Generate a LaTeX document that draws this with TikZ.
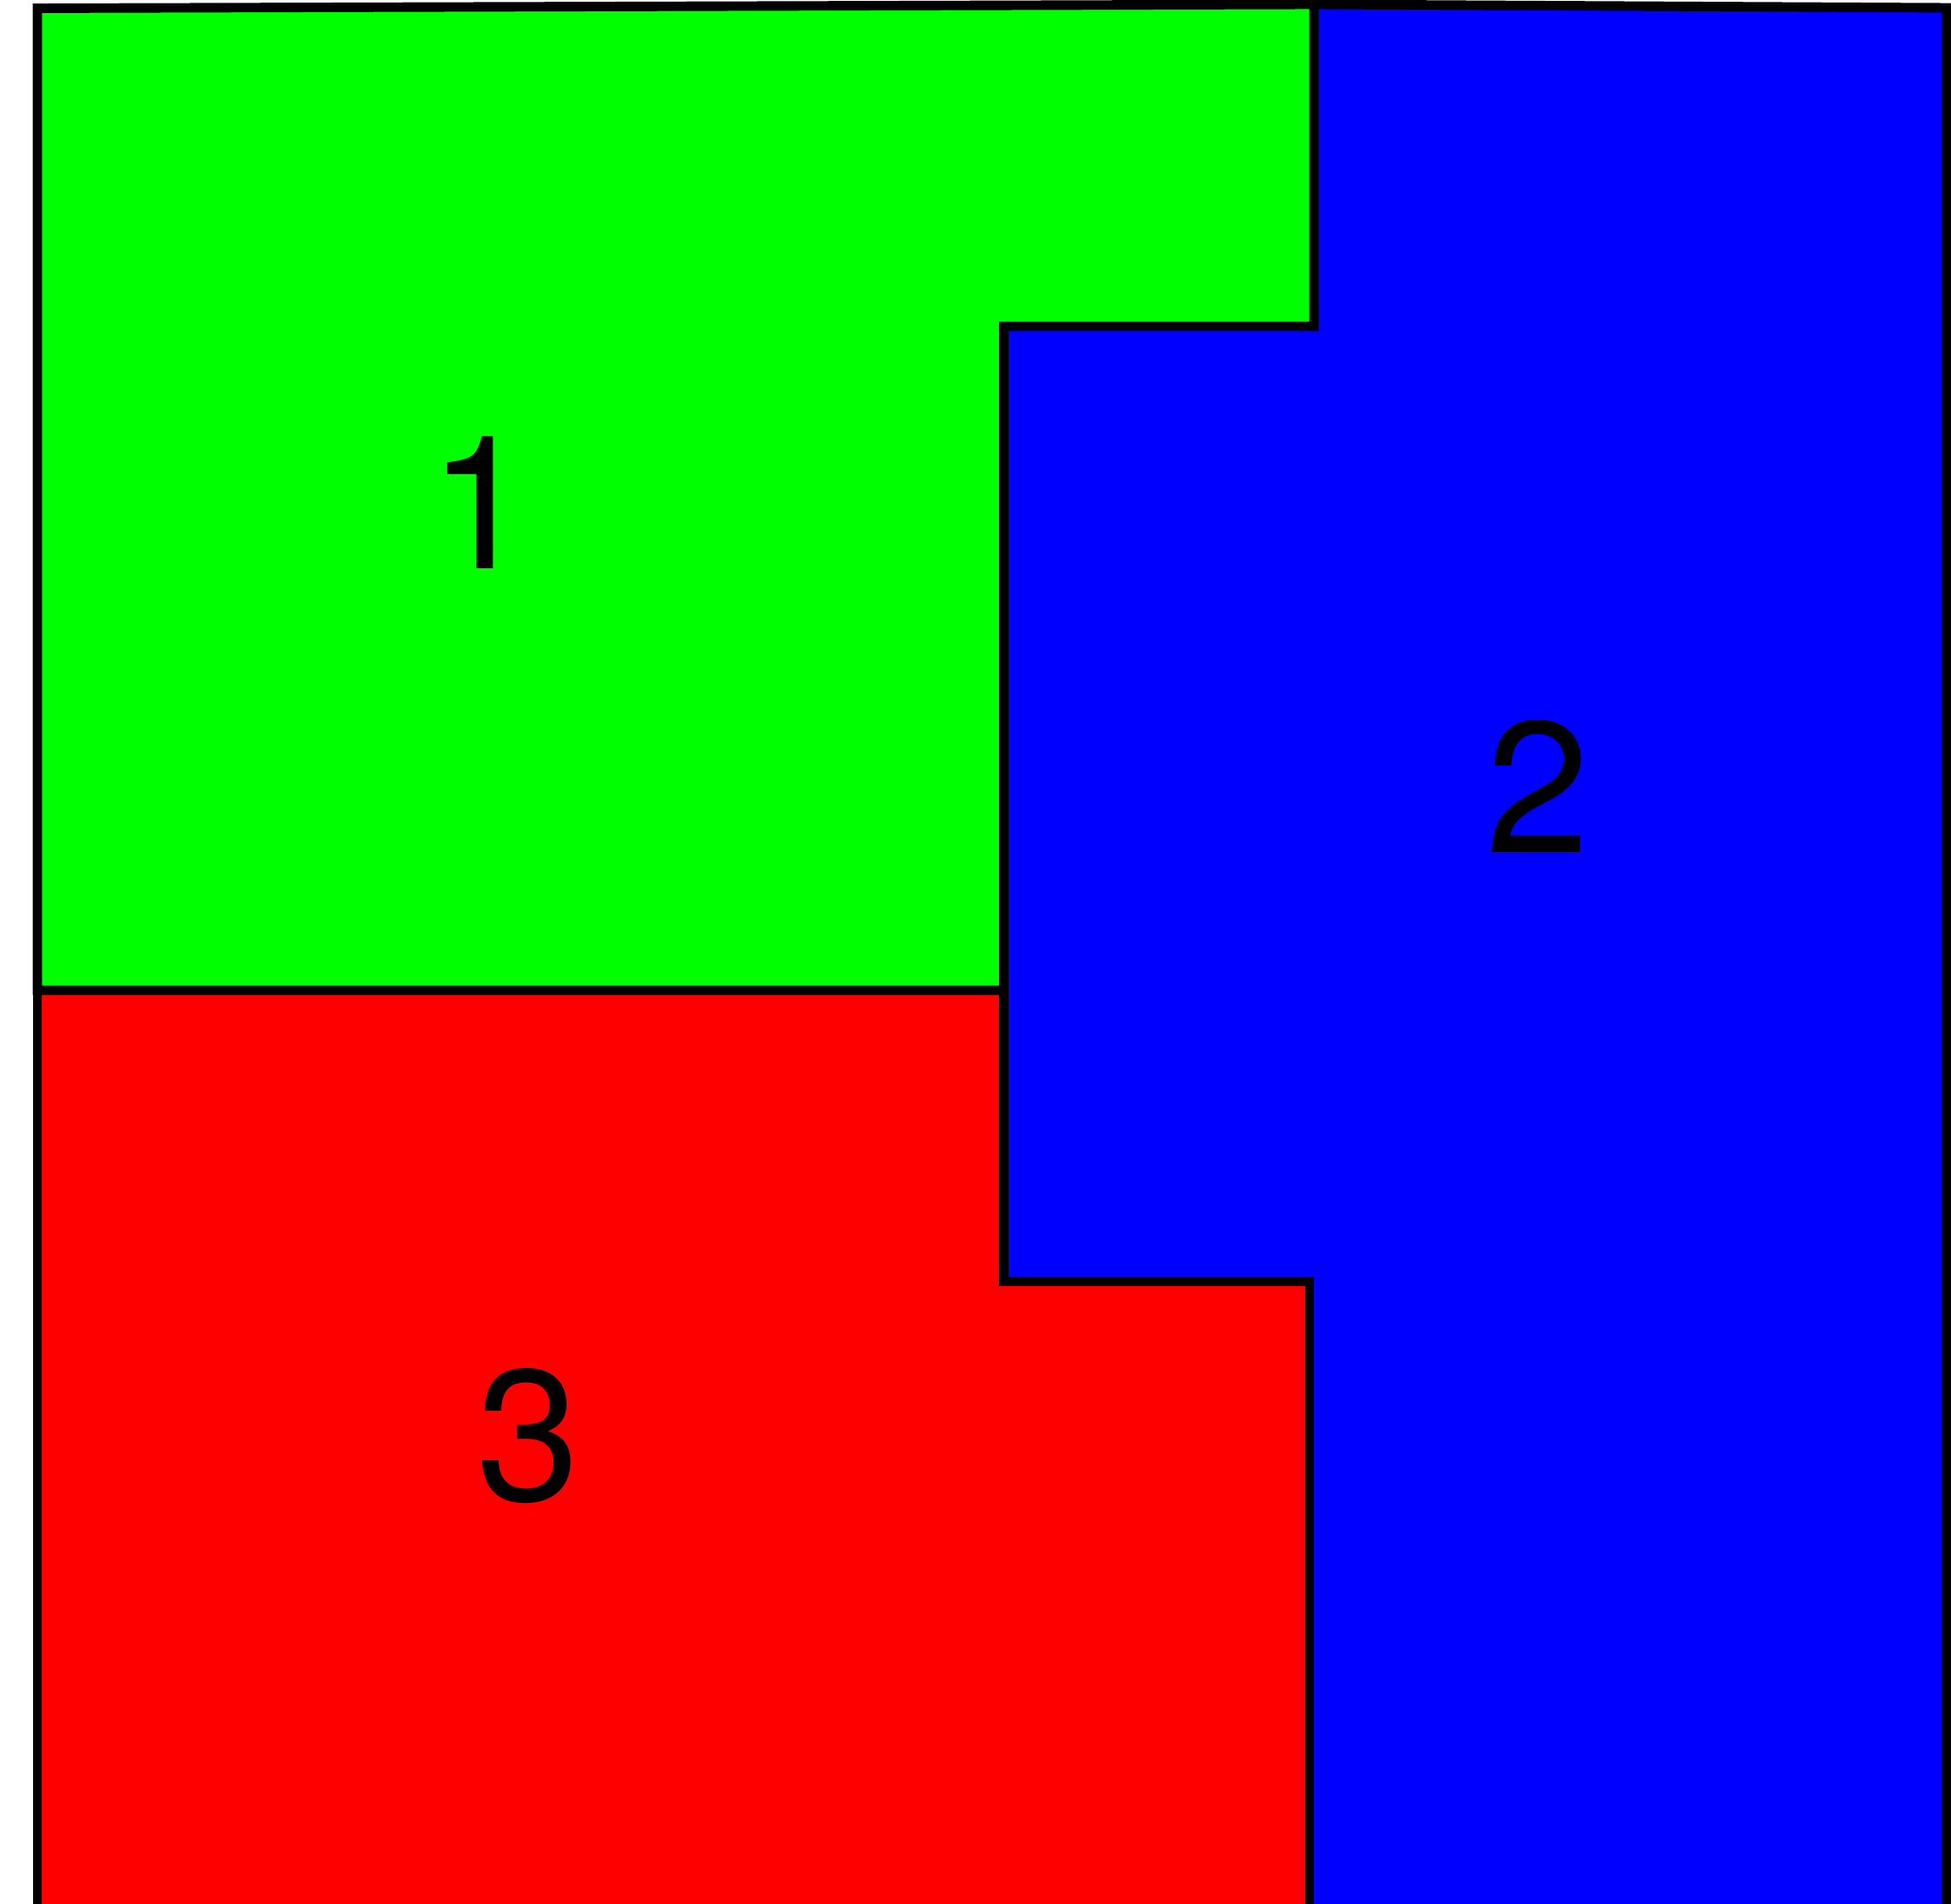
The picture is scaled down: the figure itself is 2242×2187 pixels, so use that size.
\documentclass[tikz,border=0pt]{standalone}
\usepackage{fontspec}
\setmainfont{TeX Gyre Heros}
\begin{document}
\begin{tikzpicture}[x=0.1mm,y=-0.1mm,
    region/.style={draw=black, line width=3.1pt, line join=miter},
    numlabel/.style={inner sep=0pt, font=\fontsize{61}{61}\selectfont}]
        \useasboundingbox (0,0) rectangle (2242,2187);
        \clip (0,0) rectangle (2242,2187);

        % corners shared by the regions
        \coordinate (tl) at (43,9.5);
        \coordinate (tm) at (1510,5);
        \coordinate (tr) at (2236.5,9);
        \coordinate (stepa) at (1510,375);
        \coordinate (stepb) at (1153.5,375);
        \coordinate (midl) at (43,1138);
        \coordinate (midr) at (1153.5,1138);
        \coordinate (stepc) at (1153.5,1472.5);
        \coordinate (stepd) at (1505,1472.5);

        \fill[blue] (tm) -- (tr) -- (2236.5,2220) -- (1505,2220) -- (stepd) -- (stepc) -- (stepb) -- (stepa) -- cycle;
        \fill[red] (midl) -- (midr) -- (stepc) -- (stepd) -- (1505,2220) -- (43,2220) -- cycle;
        \fill[green] (tl) -- (tm) -- (stepa) -- (stepb) -- (midr) -- (midl) -- cycle;

        \draw[region] (tl) -- (tm) -- (stepa) -- (stepb) -- (midr) -- (midl) -- cycle;
        \draw[region] (tm) -- (tr) -- (2236.5,2220);
        \draw[region] (midl) -- (43,2220);
        \draw[region] (midr) -- (stepc) -- (stepd) -- (1505,2220);

        \node[numlabel] (one) at (552,578) {1};
        \node[numlabel] (two) at (1767,903) {2};
        \node[numlabel] (three) at (607,1650) {3};

    \end{tikzpicture}
\end{document}
